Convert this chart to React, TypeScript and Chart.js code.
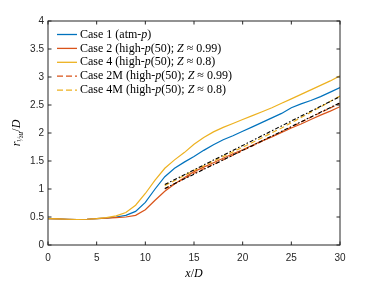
import React, { useEffect, useRef } from "react";
import { Chart, registerables } from "chart.js";

Chart.register(...registerables);

// ---------- data ----------
const xFull = [0, 1, 2, 3, 4, 5, 6, 7, 8, 9, 10, 11, 12, 13, 14, 15, 16, 17, 18, 19, 20, 21, 22, 23, 24, 25, 26, 27, 28, 29, 30];
const case1 = [0.47, 0.465, 0.46, 0.455, 0.46, 0.47, 0.48, 0.5, 0.53, 0.6, 0.76, 1.0, 1.22, 1.37, 1.48, 1.58, 1.69, 1.79, 1.88, 1.95, 2.03, 2.11, 2.19, 2.27, 2.35, 2.45, 2.52, 2.58, 2.65, 2.73, 2.81];
const case2 = [0.47, 0.465, 0.46, 0.455, 0.46, 0.47, 0.48, 0.49, 0.5, 0.53, 0.63, 0.8, 0.96, 1.09, 1.2, 1.31, 1.39, 1.47, 1.55, 1.63, 1.7, 1.78, 1.86, 1.93, 2.01, 2.09, 2.16, 2.24, 2.32, 2.39, 2.47];
const case4 = [0.47, 0.465, 0.46, 0.455, 0.46, 0.47, 0.49, 0.52, 0.58, 0.71, 0.92, 1.16, 1.37, 1.52, 1.65, 1.8, 1.92, 2.02, 2.1, 2.17, 2.24, 2.31, 2.38, 2.45, 2.53, 2.61, 2.69, 2.77, 2.85, 2.93, 3.02];
const xModel = [12, 15, 18, 21, 24, 27, 30];
const case2M = [1.0, 1.28, 1.52, 1.77, 2.02, 2.28, 2.53];
const case4M = [1.06, 1.33, 1.58, 1.83, 2.09, 2.37, 2.66];
const xFit = [12, 30];
const fitUpper = [1.08, 2.65];
const fitLower = [1.01, 2.54];
const xTicks = [0, 5, 10, 15, 20, 25, 30];
const yTicks = [0, 0.5, 1, 1.5, 2, 2.5, 3, 3.5, 4];

type Seg = { t: string; i?: boolean; s?: number; dy?: number };
const legendItems: { color: string; dash: number[]; segs: Seg[] }[] = [
  { color: "#0072BD", dash: [], segs: [{ t: "Case 1 (atm-" }, { t: "p", i: true }, { t: ")" }] },
  { color: "#D95319", dash: [], segs: [{ t: "Case 2 (high-" }, { t: "p", i: true }, { t: "(50); " }, { t: "Z", i: true }, { t: " \u2248 0.99)" }] },
  { color: "#EDB120", dash: [], segs: [{ t: "Case 4 (high-" }, { t: "p", i: true }, { t: "(50); " }, { t: "Z", i: true }, { t: " \u2248 0.8)" }] },
  { color: "#D95319", dash: [6, 3], segs: [{ t: "Case 2M (high-" }, { t: "p", i: true }, { t: "(50); " }, { t: "Z", i: true }, { t: " \u2248 0.99)" }] },
  { color: "#EDB120", dash: [6, 3], segs: [{ t: "Case 4M (high-" }, { t: "p", i: true }, { t: "(50); " }, { t: "Z", i: true }, { t: " \u2248 0.8)" }] },
];
const xTitle: Seg[] = [{ t: "x", i: true }, { t: "/" }, { t: "D", i: true }];
const yTitle: Seg[] = [{ t: "r", i: true }, { t: "\u00bd", s: 8, dy: 3 }, { t: "u", i: true, s: 8, dy: 3 }, { t: "/" }, { t: "D", i: true }];

const pts = (xs: number[], ys: number[]) => xs.map((x, k) => ({ x, y: ys[k] }));

const SERIF = "'Liberation Serif', 'Times New Roman', serif";

function segFont(s: Seg, base: number) {
  return `${s.i ? "italic " : ""}${s.s ?? base}px ${SERIF}`;
}
function richWidth(ctx: CanvasRenderingContext2D, segs: Seg[], base: number) {
  let w = 0;
  for (const s of segs) {
    ctx.font = segFont(s, base);
    w += ctx.measureText(s.t).width;
  }
  return w;
}
function drawRich(ctx: CanvasRenderingContext2D, segs: Seg[], x: number, y: number, base: number) {
  let cx = x;
  for (const s of segs) {
    ctx.font = segFont(s, base);
    ctx.fillText(s.t, cx, y + (s.dy ?? 0));
    cx += ctx.measureText(s.t).width;
  }
}

const decorPlugin = {
  id: "decor",
  afterDatasetsDraw(chart: any) {
    const ctx: CanvasRenderingContext2D = chart.ctx;
    const { left, right, top, bottom } = chart.chartArea;
    const xs = chart.scales.x;
    const ys = chart.scales.y;
    ctx.save();
    // box
    ctx.strokeStyle = "#262626";
    ctx.lineWidth = 1;
    ctx.setLineDash([]);
    ctx.strokeRect(left, top, right - left, bottom - top);
    // inward ticks
    const tl = 3.5;
    ctx.beginPath();
    for (const v of xTicks) {
      const px = xs.getPixelForValue(v);
      ctx.moveTo(px, bottom);
      ctx.lineTo(px, bottom - tl);
      ctx.moveTo(px, top);
      ctx.lineTo(px, top + tl);
    }
    for (const v of yTicks) {
      const py = ys.getPixelForValue(v);
      ctx.moveTo(left, py);
      ctx.lineTo(left + tl, py);
      ctx.moveTo(right, py);
      ctx.lineTo(right - tl, py);
    }
    ctx.stroke();

    // legend
    ctx.fillStyle = "#000";
    ctx.textBaseline = "middle";
    ctx.textAlign = "left";
    legendItems.forEach((it, k) => {
      const y = 34.5 + k * 13.9;
      ctx.strokeStyle = it.color;
      ctx.lineWidth = 1.3;
      ctx.setLineDash(it.dash);
      ctx.beginPath();
      ctx.moveTo(57, y);
      ctx.lineTo(77, y);
      ctx.stroke();
      ctx.setLineDash([]);
      drawRich(ctx, it.segs, 80, y, 12);
    });

    // x title
    ctx.textBaseline = "alphabetic";
    const xw = richWidth(ctx, xTitle, 12);
    drawRich(ctx, xTitle, (left + right) / 2 - xw / 2, 277, 12);

    // y title
    ctx.save();
    ctx.translate(20, (top + bottom) / 2);
    ctx.rotate(-Math.PI / 2);
    const yw = richWidth(ctx, yTitle, 12);
    drawRich(ctx, yTitle, -yw / 2, 0, 12);
    ctx.restore();

    ctx.restore();
  },
};

export default function App() {
  const ref = useRef<HTMLCanvasElement | null>(null);
  useEffect(() => {
    if (!ref.current) return;
    const line = (label: string, data: any, color: string, dash: number[], order: number, width = 1.2) => ({
      label,
      data,
      borderColor: color,
      backgroundColor: color,
      borderWidth: width,
      borderDash: dash,
      pointRadius: 0,
      fill: false,
      tension: 0,
      order,
    });
    const tickFont = { family: "'Liberation Sans', Arial, sans-serif", size: 10 };
    const chart = new Chart(ref.current, {
      type: "line",
      data: {
        datasets: [
          line("Case 1 (atm-p)", pts(xFull, case1), "#0072BD", [], 7),
          line("Case 2 (high-p(50); Z ≈ 0.99)", pts(xFull, case2), "#D95319", [], 6),
          line("Case 4 (high-p(50); Z ≈ 0.8)", pts(xFull, case4), "#EDB120", [], 5),
          line("Case 2M (high-p(50); Z ≈ 0.99)", pts(xModel, case2M), "#D95319", [5, 3], 4),
          line("Case 4M (high-p(50); Z ≈ 0.8)", pts(xModel, case4M), "#EDB120", [5, 3], 3),
          line("fit upper", pts(xFit, fitUpper), "#000000", [4, 2, 1.5, 2], 2, 1.1),
          line("fit lower", pts(xFit, fitLower), "#000000", [4, 2, 1.5, 2], 1, 1.1),
        ],
      },
      options: {
        animation: false,
        responsive: false,
        devicePixelRatio: 1,
        layout: { padding: { top: 21, right: 36, left: 0, bottom: 0 } },
        plugins: { legend: { display: false }, tooltip: { enabled: false } },
        scales: {
          x: {
            type: "linear",
            min: 0,
            max: 30,
            afterFit: (s: any) => {
              s.height = 37;
            },
            afterBuildTicks: (s: any) => {
              s.ticks = xTicks.map((v) => ({ value: v }));
            },
            grid: { display: false, drawTicks: false },
            border: { display: false },
            ticks: { color: "#262626", padding: 7, maxRotation: 0, font: tickFont, callback: (v: any) => String(v) },
          },
          y: {
            type: "linear",
            min: 0,
            max: 4,
            afterFit: (s: any) => {
              s.width = 48;
            },
            afterBuildTicks: (s: any) => {
              s.ticks = yTicks.map((v) => ({ value: v }));
            },
            grid: { display: false, drawTicks: false },
            border: { display: false },
            ticks: { color: "#262626", padding: 4, font: tickFont, callback: (v: any) => String(v) },
          },
        },
      } as any,
      plugins: [decorPlugin],
    });
    return () => chart.destroy();
  }, []);
  return (
    <div style={{ position: "absolute", left: 0, top: 0, width: 376, height: 282, background: "#fff" }}>
      <canvas ref={ref} width={376} height={282} style={{ display: "block" }} />
    </div>
  );
}
